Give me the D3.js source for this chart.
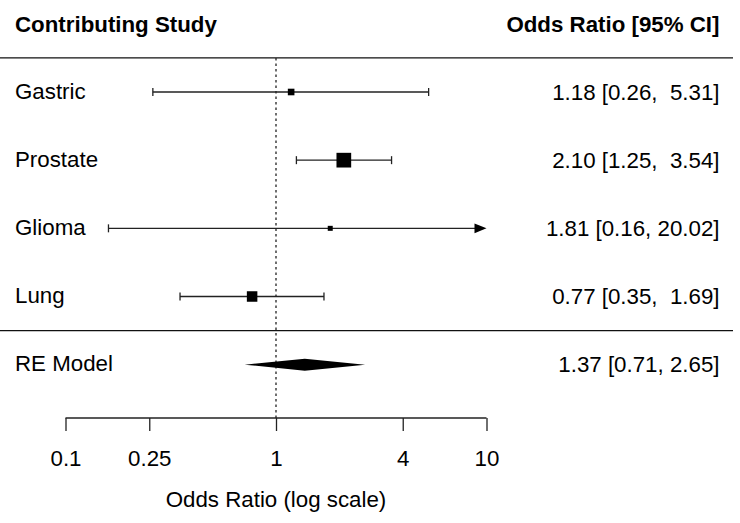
<!DOCTYPE html>
<html>
<head>
<meta charset="utf-8">
<script src="https://cdn.jsdelivr.net/npm/d3@7"></script>
<style>
  html, body { margin: 0; padding: 0; background: #fff; }
  svg { display: block; }
  text { font-family: "Liberation Sans", Arial, sans-serif; fill: #000; }
</style>
</head>
<body>
<svg id="chart" width="740" height="523"></svg>
<script>
// ---- data ----
const studies = ["Gastric", "Prostate", "Glioma", "Lung"];
const oddsRatio = [1.18, 2.10, 1.81, 0.77];
const ciLower = [0.26, 1.25, 0.16, 0.35];
const ciUpper = [5.31, 3.54, 20.02, 1.69];
const summaryLabel = "RE Model";
const summaryValues = [1.37, 0.71, 2.65]; // estimate, lower, upper
const tickValues = [0.1, 0.25, 1, 4, 10];
const headerLeft = "Contributing Study";
const headerRight = "Odds Ratio [95% CI]";
const axisTitle = "Odds Ratio (log scale)";

// ---- layout ----
const svg = d3.select("#chart");
const fs = 22.3;
const x = d3.scaleLog().domain([0.1, 10]).range([65.5, 486.5]);
// rows: studies k..1, separator 0.5, summary 0
const k = studies.length;
const y = d3.scaleLinear().domain([1, k]).range([296.5, 92]);
const axisY = 418;
const rightX = 719.5;

const fmt = d3.format(".2f");
const maxLen = d3.max(ciUpper.map(fmt), s => s.length);

// precision for square sizes
const se = ciLower.map((lo, i) => (Math.log(ciUpper[i]) - Math.log(lo)) / (2 * 1.959964));
const prec = se.map(s => 1 / s);
const sizeScale = d3.scaleLinear().domain(d3.extent(prec)).range([5, 14.7]);

// header
svg.append("text").attr("x", 15).attr("y", 31.5)
  .attr("font-size", fs).attr("font-weight", "bold").text(headerLeft);
svg.append("text").attr("x", rightX).attr("y", 31.5).attr("text-anchor", "end")
  .attr("font-size", fs).attr("font-weight", "bold").text(headerRight);

// horizontal rules
svg.append("line").attr("x1", 0).attr("x2", 733)
  .attr("y1", y(k + 0.5)).attr("y2", y(k + 0.5))
  .attr("stroke", "#111").attr("stroke-width", 1.4);
svg.append("line").attr("x1", 0).attr("x2", 733)
  .attr("y1", y(0.5)).attr("y2", y(0.5))
  .attr("stroke", "#111").attr("stroke-width", 1.4);

// reference line
svg.append("line").attr("x1", x(1)).attr("x2", x(1))
  .attr("y1", y(k + 0.5)).attr("y2", axisY)
  .attr("stroke", "#222").attr("stroke-width", 1.3)
  .attr("stroke-dasharray", "2.5,3");

// study rows
const rows = svg.append("g");
studies.forEach((name, i) => {
  const ry = y(k - i);
  const lo = Math.max(ciLower[i], x.domain()[0]);
  const hiClipped = ciUpper[i] > x.domain()[1];
  const hi = Math.min(ciUpper[i], x.domain()[1]);
  const g = rows.append("g");
  const endX = hiClipped ? x(hi) - 10 : x(hi);
  g.append("line").attr("x1", x(lo)).attr("x2", endX).attr("y1", ry).attr("y2", ry)
    .attr("stroke", "#222").attr("stroke-width", 1.3);
  g.append("line").attr("x1", x(lo)).attr("x2", x(lo)).attr("y1", ry - 4).attr("y2", ry + 4)
    .attr("stroke", "#222").attr("stroke-width", 1.3);
  if (hiClipped) {
    const tip = x(hi);
    g.append("path").attr("d", `M${tip},${ry} L${tip - 12},${ry - 4.8} L${tip - 12},${ry + 4.8} Z`)
      .attr("fill", "#000");
  } else {
    g.append("line").attr("x1", x(hi)).attr("x2", x(hi)).attr("y1", ry - 4).attr("y2", ry + 4)
      .attr("stroke", "#222").attr("stroke-width", 1.3);
  }
  const s = sizeScale(prec[i]);
  g.append("rect").attr("x", x(oddsRatio[i]) - s / 2).attr("y", ry - s / 2)
    .attr("width", s).attr("height", s).attr("fill", "#000");
  g.append("text").attr("x", 15).attr("y", ry + 6.5).attr("font-size", fs).text(name);
  const hiStr = fmt(ciUpper[i]).padStart(maxLen, " ");
  g.append("text").attr("x", rightX).attr("y", ry + 7.5).attr("text-anchor", "end")
    .attr("font-size", fs).style("white-space", "pre")
    .text(fmt(oddsRatio[i]) + " [" + fmt(ciLower[i]) + ", " + hiStr + "]");
});

// summary diamond
const sy = y(0);
const [est, slo, shi] = summaryValues;
svg.append("path")
  .attr("d", `M${x(slo)},${sy} L${x(est)},${sy - 6} L${x(shi)},${sy} L${x(est)},${sy + 6} Z`)
  .attr("fill", "#000");
svg.append("text").attr("x", 15).attr("y", sy + 6.5).attr("font-size", fs).text(summaryLabel);
svg.append("text").attr("x", rightX).attr("y", sy + 7.5).attr("text-anchor", "end")
  .attr("font-size", fs).style("white-space", "pre")
  .text(fmt(est) + " [" + fmt(slo) + ", " + fmt(shi) + "]");

// axis
const axis = d3.axisBottom(x).tickValues(tickValues)
  .tickFormat(d => String(d)).tickSize(13).tickPadding(20);
const ax = svg.append("g").attr("transform", `translate(0,${axisY})`).call(axis);
ax.select(".domain").attr("d", `M${x(0.1)},0H${x(10)}`).attr("stroke", "#222").attr("stroke-width", 1.3);
ax.selectAll(".tick line").attr("stroke", "#222").attr("stroke-width", 1.3);
ax.selectAll(".tick text").attr("font-size", fs).attr("fill", "#000")
  .attr("font-family", "Liberation Sans, Arial, sans-serif")
  .attr("dy", null).attr("y", 48);

svg.append("text").attr("x", x(1)).attr("y", 506.5).attr("text-anchor", "middle")
  .attr("font-size", fs).text(axisTitle);
</script>
</body>
</html>
